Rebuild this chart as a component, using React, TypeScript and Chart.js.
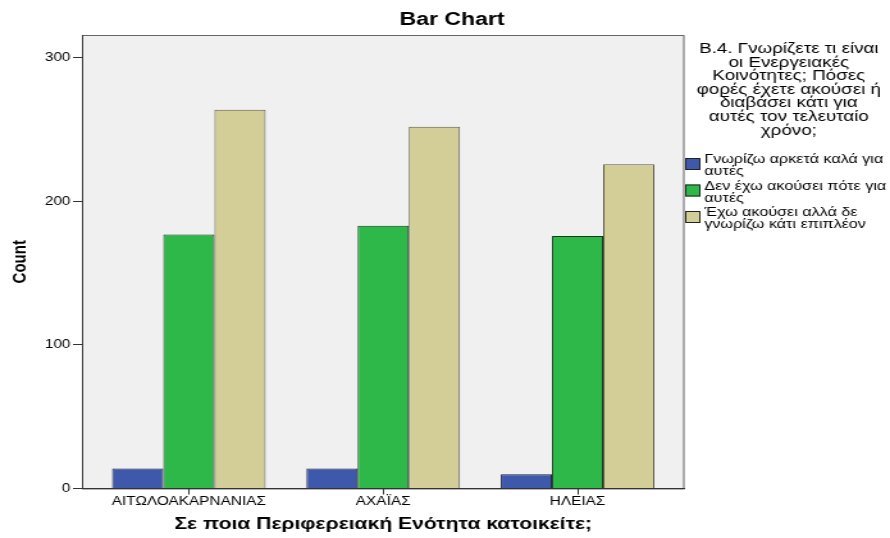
import React, { useEffect, useRef } from 'react';
import { Chart, registerables } from 'chart.js';

Chart.register(...registerables);

// ---- data ----
const categories = ['ΑΙΤΩΛΟΑΚΑΡΝΑΝΙΑΣ', 'ΑΧΑΪΑΣ', 'ΗΛΕΙΑΣ'];
const seriesNames = [
  'Γνωρίζω αρκετά καλά για αυτές',
  'Δεν έχω ακούσει πότε για αυτές',
  'Έχω ακούσει αλλά δε γνωρίζω κάτι επιπλέον',
];
const knowWell = [14, 14, 10];
const neverHeard = [177, 183, 176];
const heardNoMore = [264, 252, 226];
const yTicks = [0, 100, 200, 300];
const chartTitle = 'Bar Chart';
const xTitle = 'Σε ποια Περιφερειακή Ενότητα κατοικείτε;';
const yTitle = 'Count';
const legendTitleLines = [
  'Β.4. Γνωρίζετε τι είναι',
  'οι Ενεργειακές',
  'Κοινότητες; Πόσες',
  'φορές έχετε ακούσει ή',
  'διαβάσει κάτι για',
  'αυτές τον τελευταίο',
  'χρόνο;',
];
const legendLabelLines = [
  ['Γνωρίζω αρκετά καλά για', 'αυτές'],
  ['Δεν έχω ακούσει πότε για', 'αυτές'],
  ['Έχω ακούσει αλλά δε', 'γνωρίζω κάτι επιπλέον'],
];

const series = [knowWell, neverHeard, heardNoMore];
const fillColors = ['#3e58ac', '#2eb84a', '#d3ce97'];
const borderColors = ['#1b2140', '#153a1c', '#5c5a48'];

const FONT = "'Liberation Sans', Arial, sans-serif";
const INNER_W = 695; // canvas drawn narrower, then stretched to 890 like the reference
const H = 538;

const decorPlugin = {
  id: 'decor',
  beforeDraw(chart: any) {
    const { ctx, chartArea } = chart;
    const { left, top, right, bottom } = chartArea;
    ctx.save();
    ctx.fillStyle = '#f0f0f0';
    ctx.fillRect(left, top, right - left, bottom - top);
    ctx.strokeStyle = '#666666';
    ctx.lineWidth = 1;
    ctx.strokeRect(left + 0.5, top + 0.5, right - left - 1, bottom - top);
    ctx.restore();
  },
  afterDraw(chart: any) {
    const { ctx, chartArea } = chart;
    ctx.save();
    ctx.fillStyle = '#000';
    // chart title
    ctx.font = `bold 18px ${FONT}`;
    ctx.textAlign = 'center';
    ctx.textBaseline = 'middle';
    ctx.fillText(chartTitle, 353, 20);

    // legend title
    ctx.font = `14.7px ${FONT}`;
    legendTitleLines.forEach((line, i) => {
      ctx.fillText(line, 616, 49 + i * 13.6);
    });

    // legend items
    const boxX = chartArea.right + 0.5;
    ctx.textAlign = 'left';
    ctx.font = `12.6px ${FONT}`;
    legendLabelLines.forEach((lines, i) => {
      const y0 = 160 + i * 26.5;
      ctx.fillStyle = fillColors[i];
      ctx.fillRect(boxX, y0 - 2, 12, 12);
      ctx.strokeStyle = '#222';
      ctx.lineWidth = 1;
      ctx.strokeRect(boxX + 0.5, y0 - 1.5, 11, 11);
      ctx.fillStyle = '#000';
      lines.forEach((t, j) => {
        ctx.fillText(t, boxX + 15, y0 + j * 12);
      });
    });
    ctx.restore();
  },
};

export default function App() {
  const canvasRef = useRef<HTMLCanvasElement | null>(null);

  useEffect(() => {
    if (!canvasRef.current) return;
    Chart.defaults.font.family = FONT;
    const chart = new Chart(canvasRef.current, {
      type: 'bar',
      data: {
        datasets: series.map((vals, i) => ({
          label: seriesNames[i],
          data: vals.map((v, j) => ({ x: j + 1, y: v })),
          backgroundColor: fillColors[i],
          borderColor: borderColors[i],
          borderWidth: 1,
          categoryPercentage: 0.79,
          barPercentage: 1,
        })),
      },
      options: {
        animation: false,
        responsive: false,
        maintainAspectRatio: false,
        events: [],
        layout: { padding: { top: 35, right: 160.5, left: 0, bottom: 0 } },
        plugins: {
          legend: { display: false },
          title: { display: false },
          tooltip: { enabled: false },
        },
        scales: {
          x: {
            type: 'linear',
            min: 0.45,
            max: 3.55,
            offset: false,
            afterBuildTicks: (scale: any) => {
              scale.ticks = categories.map((_, i) => ({ value: i + 1 }));
            },
            afterFit: (scale: any) => {
              scale.height = 49.5;
            },
            grid: {
              display: true,
              drawOnChartArea: false,
              drawTicks: true,
              tickLength: 6,
              color: '#333',
              offset: false,
            },
            border: { display: true, color: '#333', width: 1 },
            ticks: {
              autoSkip: false,
              maxRotation: 0,
              minRotation: 0,
              padding: 0,
              color: '#000',
              font: { family: FONT, size: 12 },
              callback: (v: any) => categories[Math.round(Number(v)) - 1] ?? '',
            },
            title: {
              display: true,
              text: xTitle,
              color: '#000',
              font: { family: FONT, size: 16.5, weight: 'bold' },
              padding: { top: 0, bottom: 4 },
            },
          },
          y: {
            min: 0,
            max: 316,
            afterBuildTicks: (scale: any) => {
              scale.ticks = yTicks.map((v) => ({ value: v }));
            },
            afterFit: (scale: any) => {
              scale.width = 64;
            },
            grid: {
              drawOnChartArea: false,
              drawTicks: true,
              tickLength: 7,
              color: '#333',
            },
            border: { display: true, color: '#333', width: 1 },
            ticks: {
              padding: 2,
              color: '#000',
              font: { family: FONT, size: 12 },
            },
            title: {
              display: true,
              text: yTitle,
              color: '#000',
              font: { family: FONT, size: 15, weight: 'bold' },
              padding: { top: 6.6, bottom: 0 },
            },
          },
        },
      } as any,
      plugins: [decorPlugin],
    });
    return () => chart.destroy();
  }, []);

  return (
    <div style={{ position: 'absolute', left: 0, top: 0, width: 890, height: H, background: '#fff' }}>
      <canvas
        ref={canvasRef}
        width={INNER_W}
        height={H}
        style={{ width: '890px', height: `${H}px`, display: 'block' }}
      />
    </div>
  );
}
